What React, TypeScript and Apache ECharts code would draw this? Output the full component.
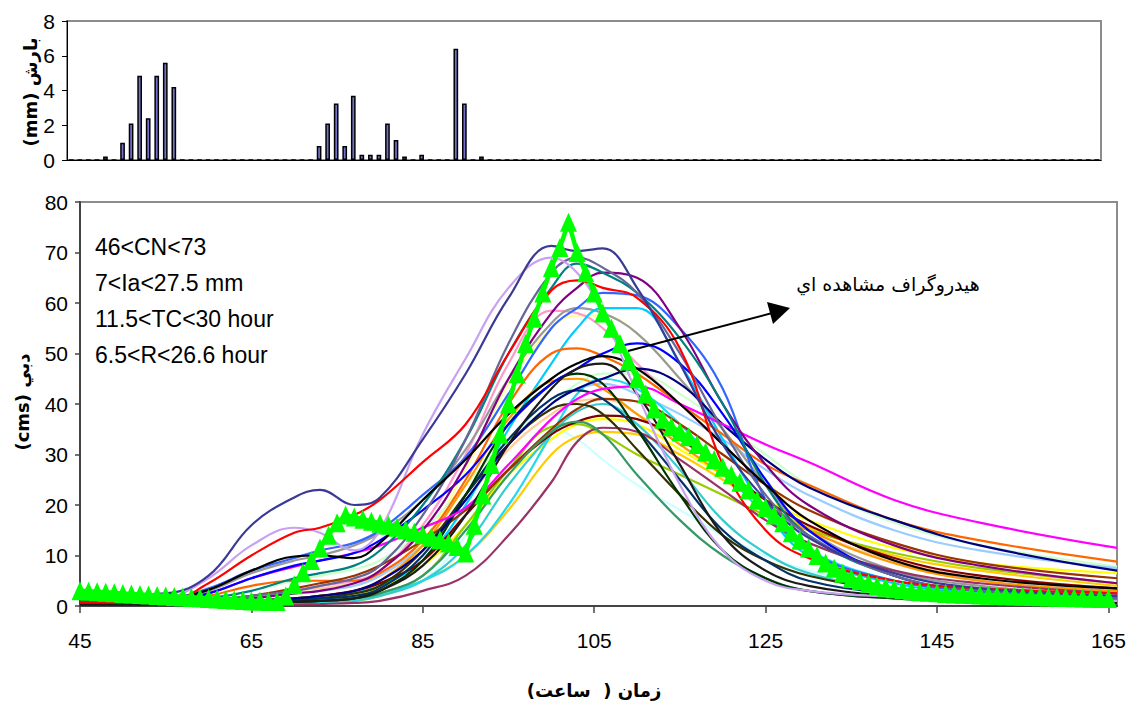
import React, { useEffect, useRef } from "react";
import * as echarts from "echarts";

// ---------- data ----------
const X_TICKS = [45, 65, 85, 105, 125, 145, 165];
const TOP_FIRST_HOUR = 45;
const TOP_LAST_HOUR = 165;

// rainfall (mm) at given hours, all other hours are zero
const RAIN_HOURS = [49, 51, 52, 53, 54, 55, 56, 57, 74, 75, 76, 77, 78, 79, 80, 81, 82, 83, 84, 86, 90, 91, 93];
const RAIN_MM = [0.2, 1.0, 2.1, 4.85, 2.4, 4.85, 5.6, 4.2, 0.8, 2.1, 3.25, 0.8, 3.7, 0.3, 0.3, 0.3, 2.1, 1.15, 0.2, 0.3, 6.4, 3.25, 0.2];

// simulated hydrographs, sampled at these hours
const HOURS = [45, 55, 60, 65, 70, 73, 77, 80, 85, 90, 95, 100, 103, 106, 110, 115, 120, 125, 130, 140, 150, 166];
const SIM_NAVYSLATE = [2, 2.5, 6, 16, 21.5, 23, 20, 21.5, 33, 46, 61, 71.3, 70.3, 70.8, 63, 48, 32, 21, 13.5, 6.5, 3.5, 2];
const SIM_LAVENDER = [1.5, 1.8, 5.5, 12, 15.5, 14.5, 11, 15, 34, 49, 63, 69, 66, 58, 42, 24, 11, 5, 3, 1.8, 1.3, 1];
const SIM_RED = [0.8, 0.8, 4.5, 10, 14.5, 15.5, 18, 21, 28.5, 36, 50, 62.5, 64.5, 63, 61, 51, 28, 15, 9.5, 5, 3.5, 2.5];
const SIM_SLATE = [0.5, 0.5, 1, 2, 3, 4, 5.5, 8, 18, 33, 52, 66, 69, 67, 62, 50, 35, 22, 14, 6, 3, 1.5];
const SIM_TEAL = [1, 1, 1.5, 3, 5.5, 6.5, 8, 11, 20, 33, 50, 63, 67.8, 66, 62, 53, 40, 24, 14, 6, 3, 1.5];
const SIM_PURPLE = [0.5, 0.5, 0.8, 1.5, 2.5, 3, 4.5, 7, 15, 28, 45, 58, 63, 66, 65, 55, 40, 28, 20, 12, 8, 4.5];
const SIM_ROYAL = [1.5, 1.5, 3.5, 7, 9.5, 11, 12.5, 15, 22, 29.5, 42, 55, 59, 62, 61.5, 55, 43, 21, 11, 5, 3, 1.8];
const SIM_PINK = [0.5, 0.5, 1, 2, 3, 4, 5, 7, 16, 30, 48, 58.5, 58, 55, 48, 40, 32, 24, 17, 9, 5, 3];
const SIM_GRAY = [1, 1, 3, 6.5, 9, 10, 12, 14.5, 21, 31, 45, 56, 59, 58, 54, 45, 35, 24, 15, 7, 4, 2];
const SIM_LTYELLOW = [0.5, 0.5, 0.8, 1.5, 2.5, 3, 4, 6, 13, 27, 44, 55, 57.5, 57.5, 54, 45, 35, 25, 17, 9, 5, 2.5];
const SIM_SKY = [0.3, 0.3, 0.5, 1, 1.5, 2, 2.6, 4, 9, 20, 35, 48, 55, 59, 59, 48, 33, 19, 10, 4.5, 2.5, 1.2];
const SIM_CYAN = [0.3, 0.3, 0.3, 0.5, 0.8, 1, 1.5, 2.5, 5, 10, 20, 34, 42, 45, 43, 36, 27, 18, 11, 5, 3, 1.5];
const SIM_ORANGE = [0.8, 0.8, 2, 4, 5, 5, 5, 6.5, 13, 25, 40, 50, 51, 49.5, 46, 40, 34, 28, 24, 17, 13, 8.8];
const SIM_BLUE = [1, 1, 2.5, 5.5, 8, 9, 10.5, 13, 19, 26, 36, 44, 47, 50, 52, 48, 38, 25, 15, 6, 3, 1.5];
const SIM_BLACK = [1.2, 1.5, 3.2, 7, 9.8, 10, 9.5, 12.5, 21, 29, 38, 45, 48, 49.5, 47, 40, 32, 24, 17, 9, 5.5, 3.5];
const SIM_BLACK2 = [0.3, 0.3, 0.3, 0.5, 0.8, 1, 1.5, 3, 8, 18, 32, 43, 47, 48, 42, 28, 14, 7, 4, 2, 1.3, 0.8];
const SIM_DKGREEN = [0.3, 0.3, 0.3, 0.5, 0.8, 1, 1.5, 3, 9, 22, 36, 44, 46, 44, 35, 22, 11, 5.5, 3, 1.5, 1, 0.5];
const SIM_NAVY = [0.5, 0.5, 0.5, 1, 1.5, 2, 3, 5, 11, 21, 32, 40, 43, 45, 47, 44, 36, 29, 23.5, 17, 12, 7];
const SIM_LTGREEN = [0.8, 0.8, 1.5, 3, 5, 6, 7.3, 9, 15, 24, 33, 40, 44, 46, 46, 42, 36, 30, 24, 16.5, 12, 7.8];
const SIM_DKSLATE = [0.5, 0.5, 0.5, 0.8, 1.2, 1.5, 2, 3.5, 10, 22, 33, 41, 42.7, 41, 35, 25, 15, 9, 5, 2.5, 1.5, 0.8];
const SIM_LTBLUE = [0.5, 0.5, 0.8, 1.5, 2.5, 3, 4, 6, 12, 21, 32, 40, 43, 44, 42, 38, 33, 27, 22, 15, 11, 7.5];
const SIM_MAGENTA = [1, 1, 2.5, 5.5, 7.8, 9, 10.5, 12, 15.5, 19.5, 28, 37, 41, 43, 43.5, 40, 36, 32, 28.5, 21, 16.5, 11.5];
const SIM_PEACH = [0.5, 0.5, 0.8, 1.5, 3, 3.5, 4.5, 6, 12, 21, 31, 38, 40.5, 41, 38, 32, 26, 20, 15, 9, 6, 3.5];
const SIM_DKOLIVE = [0.3, 0.3, 0.3, 0.5, 1, 1.5, 2.5, 4, 11, 22, 32, 39, 40, 38, 31, 22, 14, 9, 6, 3, 2, 1];
const SIM_BROWN = [0.5, 0.5, 1, 2, 3.5, 4.5, 6, 8, 13, 19, 27, 35, 39, 41, 40.5, 36, 30, 24, 19, 12.5, 8.5, 5.5];
const SIM_SEAGREEN = [0.3, 0.3, 0.3, 0.5, 0.8, 1, 1.5, 2.5, 6, 15, 26, 34.5, 36.5, 34, 26, 17, 10, 5.5, 3, 1.5, 1, 0.5];
const SIM_MAROON = [0.3, 0.3, 0.5, 1, 1.5, 2, 3, 4.5, 9, 18, 27, 34, 36.5, 37.7, 37, 33, 27, 21, 16, 9.5, 6, 3.5];
const SIM_YELGREEN = [0.3, 0.3, 0.3, 0.5, 0.8, 1, 1.5, 2.5, 6, 16, 27, 35.5, 36, 34, 30, 26, 22, 18, 15, 10.5, 7.5, 4.5];
const SIM_LTCYAN = [0.3, 0.3, 0.3, 0.5, 0.5, 0.7, 1, 2, 5, 14, 27, 35, 33, 29, 24, 19, 14, 10, 7, 3.5, 2, 1];
const SIM_PLUM = [0.2, 0.2, 0.2, 0.2, 0.3, 0.4, 0.6, 1, 3, 6, 14, 24.5, 32.5, 35.3, 34.5, 29, 23, 17, 12.5, 7, 4.5, 2.5];
const SIM_GOLD = [0.3, 0.3, 0.3, 0.3, 0.5, 0.7, 1, 2, 5, 10, 19, 30, 33.5, 34.5, 34, 30, 25, 20, 15.5, 10, 7, 4];
const SIM_YELLOW = [0.3, 0.3, 0.5, 0.8, 1, 1.5, 2, 3.5, 8, 16, 26, 33, 36, 37, 36, 31, 26, 21, 17, 11.5, 8.5, 6.5];
const SIM_TURQ = [0.3, 0.3, 0.3, 0.5, 0.5, 0.7, 1, 2, 5, 12, 24, 34, 38.5, 40, 36, 27, 17, 10.5, 6.5, 3, 1.8, 1];
const SIM_ORANGE2 = [0.3, 0.3, 0.5, 1, 1.5, 2, 3, 5, 12, 24, 37, 44.5, 45, 43, 38, 32, 26, 20, 15, 8.5, 5, 3];

const SIMULATED: [string, number[]][] = [
  ["#FFFF99", SIM_LTYELLOW],
  ["#CCFFFF", SIM_LTCYAN],
  ["#CCFFCC", SIM_LTGREEN],
  ["#FFCC99", SIM_PEACH],
  ["#99CCFF", SIM_LTBLUE],
  ["#FFFF00", SIM_YELLOW],
  ["#FFCC00", SIM_GOLD],
  ["#99CC00", SIM_YELGREEN],
  ["#FF99CC", SIM_PINK],
  ["#999999", SIM_GRAY],
  ["#33CCCC", SIM_TURQ],
  ["#22D8EE", SIM_CYAN],
  ["#00CCFF", SIM_SKY],
  ["#FF9900", SIM_ORANGE2],
  ["#FF6600", SIM_ORANGE],
  ["#993366", SIM_PLUM],
  ["#800000", SIM_MAROON],
  ["#993300", SIM_BROWN],
  ["#339966", SIM_SEAGREEN],
  ["#333300", SIM_DKOLIVE],
  ["#003366", SIM_DKSLATE],
  ["#003300", SIM_DKGREEN],
  ["#000080", SIM_NAVY],
  ["#FF00FF", SIM_MAGENTA],
  ["#0000FF", SIM_BLUE],
  ["#3366FF", SIM_ROYAL],
  ["#800080", SIM_PURPLE],
  ["#008080", SIM_TEAL],
  ["#666699", SIM_SLATE],
  ["#000000", SIM_BLACK],
  ["#1A1A1A", SIM_BLACK2],
  ["#C8A2F0", SIM_LAVENDER],
  ["#FF0000", SIM_RED],
  ["#3A3A96", SIM_NAVYSLATE],
];

// observed hydrograph, hourly from hour 45 to 165
const OBS_START_HOUR = 45;
const OBSERVED = [
  3.0, 2.9, 2.8, 2.7, 2.6, 2.5, 2.4, 2.3, 2.2, 2.1,
  2.0, 1.9, 1.8, 1.7, 1.6, 1.5, 1.4, 1.3, 1.2, 1.1,
  1.0, 1.0, 0.9, 0.9, 2.0, 4.2, 6.6, 9.0, 11.5, 14.0,
  16.5, 18.0, 17.6, 17.2, 16.8, 16.4, 16.0, 15.6, 15.1, 14.6,
  14.1, 13.6, 13.1, 12.5, 11.8, 10.5, 16, 22, 28, 34,
  40, 46, 52, 57, 62, 67, 71, 76, 70, 66,
  62, 58, 55, 52, 48.5, 45, 42, 39, 37, 35.5,
  34.5, 33.5, 32, 30.5, 29, 27.5, 26, 24.5, 23, 21,
  19.5, 18, 16.5, 14.5, 13, 11.5, 10, 8.5, 7.5, 6.5,
  5.5, 5, 4.5, 4, 3.7, 3.4, 3.2, 3.0, 2.8, 2.7,
  2.6, 2.5, 2.4, 2.35, 2.3, 2.2, 2.15, 2.1, 2.05, 2.0,
  1.95, 1.9, 1.85, 1.8, 1.75, 1.7, 1.65, 1.6, 1.55, 1.5,
  1.5,
];

const PARAM_LINES = ["46<CN<73", "7<Ia<27.5 mm", "11.5<TC<30 hour", "6.5<R<26.6 hour"];

const FONT = "'Liberation Sans', Arial, sans-serif";
const FA_FONT = "'DejaVu Sans', 'Liberation Sans', Arial, sans-serif";

export default function App() {
  const ref = useRef<HTMLDivElement>(null);

  useEffect(() => {
    if (!ref.current) return;
    const chart = echarts.init(ref.current, undefined, { renderer: "svg" });

    const topCats: string[] = [];
    for (let h = TOP_FIRST_HOUR; h <= TOP_LAST_HOUR; h++) topCats.push(String(h));
    const rainData = topCats.map((c) => {
      const idx = RAIN_HOURS.indexOf(Number(c));
      return idx >= 0 ? RAIN_MM[idx] : 0;
    });

    const simSeries = SIMULATED.map(([color, vals]) => ({
      type: "line",
      xAxisIndex: 1,
      yAxisIndex: 1,
      data: HOURS.map((h, i) => [h, vals[i]]),
      smooth: 0.4,
      showSymbol: false,
      symbol: "none",
      lineStyle: { color, width: 2.2 },
      itemStyle: { color },
      silent: true,
      z: 3,
    }));

    const option: any = {
      animation: false,
      backgroundColor: "#ffffff",
      textStyle: { fontFamily: FONT },
      grid: [
        { left: 67, top: 21, width: 1034, height: 139, show: true, borderColor: "#8c8c8c", borderWidth: 2, backgroundColor: "transparent" },
        { left: 80, top: 202, width: 1037, height: 404, show: true, borderColor: "#8c8c8c", borderWidth: 2, backgroundColor: "transparent" },
      ],
      xAxis: [
        {
          type: "category",
          gridIndex: 0,
          data: topCats,
          boundaryGap: true,
          axisLine: { lineStyle: { color: "#000", width: 1 } },
          axisTick: { interval: 0, length: 4, lineStyle: { color: "#000" } },
          axisLabel: { show: false },
          splitLine: { show: false },
        },
        {
          type: "value",
          gridIndex: 1,
          min: 45,
          max: 166,
          axisLine: { onZero: false, lineStyle: { color: "#444", width: 2 } },
          axisTick: { customValues: X_TICKS, length: 7, lineStyle: { color: "#444", width: 1.5 } },
          axisLabel: { customValues: X_TICKS, fontSize: 21, margin: 24, color: "#000", fontFamily: FONT },
          splitLine: { show: false },
        },
      ],
      yAxis: [
        {
          type: "value",
          gridIndex: 0,
          min: 0,
          max: 8,
          interval: 2,
          axisLine: { show: true, lineStyle: { color: "#000", width: 1 } },
          axisTick: { show: true, length: 5, lineStyle: { color: "#000" } },
          axisLabel: { fontSize: 21, margin: 12, color: "#000", fontFamily: FONT },
          splitLine: { show: false },
        },
        {
          type: "value",
          gridIndex: 1,
          min: 0,
          max: 80,
          interval: 10,
          axisLine: { show: true, lineStyle: { color: "#444", width: 2 } },
          axisTick: { show: true, length: 5, lineStyle: { color: "#444", width: 1.5 } },
          axisLabel: { fontSize: 21, margin: 12, color: "#000", fontFamily: FONT },
          splitLine: { show: false },
        },
      ],
      series: [
        {
          type: "bar",
          xAxisIndex: 0,
          yAxisIndex: 0,
          data: rainData,
          barWidth: "55%",
          itemStyle: { color: "#7373CC", borderColor: "#000", borderWidth: 1.5 },
          silent: true,
        },
        ...simSeries,
        {
          type: "line",
          xAxisIndex: 1,
          yAxisIndex: 1,
          data: OBSERVED.map((v, i) => [OBS_START_HOUR + i, v]),
          symbol: "triangle",
          symbolSize: [17, 19],
          showSymbol: true,
          showAllSymbol: true,
          clip: false,
          lineStyle: { color: "#00FF00", width: 4.5 },
          itemStyle: { color: "#00FF00", borderWidth: 0 },
          silent: true,
          z: 10,
        },
      ],
      graphic: [
        ...PARAM_LINES.map((t, i) => ({
          type: "text",
          left: 95,
          top: 235 + i * 36.3,
          z: 20,
          style: { text: t, fontSize: 23, fontFamily: FONT, fill: "#000" },
        })),
        {
          type: "line",
          z: 20,
          shape: { x1: 628, y1: 351, x2: 776, y2: 312 },
          style: { stroke: "#000", lineWidth: 2 },
        },
        {
          type: "polygon",
          z: 20,
          shape: { points: [[790, 308], [767, 302], [773, 324]] },
          style: { fill: "#000" },
        },
        {
          type: "text",
          x: 888,
          y: 284,
          z: 20,
          style: { text: "هيدروگراف مشاهده اي", fontSize: 19, fontFamily: FA_FONT, fill: "#000", align: "center", verticalAlign: "middle" },
        },
        {
          type: "text",
          x: 30,
          y: 92,
          rotation: Math.PI / 2,
          z: 20,
          style: { text: "(mm) بارش", fontSize: 18, fontWeight: "bold", fontFamily: FA_FONT, fill: "#000", align: "center", verticalAlign: "middle" },
        },
        {
          type: "text",
          x: 22,
          y: 402,
          rotation: Math.PI / 2,
          z: 20,
          style: { text: "(cms) دبي", fontSize: 18, fontWeight: "bold", fontFamily: FA_FONT, fill: "#000", align: "center", verticalAlign: "middle" },
        },
        {
          type: "text",
          x: 594,
          y: 690,
          z: 20,
          style: { text: "زمان (  ساعت)\u200F", fontSize: 18, fontWeight: "bold", fontFamily: FA_FONT, fill: "#000", align: "center", verticalAlign: "middle" },
        },
      ],
    };

    chart.setOption(option);
    return () => chart.dispose();
  }, []);

  return (
    <div
      ref={ref}
      style={{ position: "absolute", left: 0, top: 0, width: 1131, height: 702, background: "#fff" }}
    />
  );
}
